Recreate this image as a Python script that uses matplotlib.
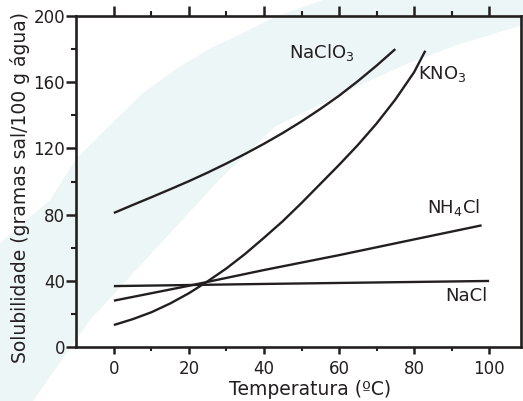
import matplotlib
matplotlib.use("Agg")
import matplotlib.pyplot as plt
from matplotlib.patches import Polygon
from matplotlib.ticker import MultipleLocator, FixedLocator, NullFormatter

# ---------- data ----------
naclo3_t = [0, 5, 10, 15, 20, 25, 30, 35, 40, 45, 50, 55, 60, 65, 70, 75]
naclo3_s = [81, 85.8, 90.5, 95.3, 100.2, 105.4, 110.9, 116.7, 122.8, 129.3,
            136.3, 143.8, 151.8, 160.6, 170, 180]

kno3_t = [0, 5, 10, 15, 20, 25, 30, 35, 40, 45, 50, 55, 60, 65, 70, 75, 80, 83]
kno3_s = [13.3, 16.8, 21, 26.3, 32.5, 39.7, 47.5, 56.3, 66, 76, 87, 98.5,
          110, 122, 135, 149.5, 166, 179]

nh4cl_t = [0, 20, 40, 60, 80, 98]
nh4cl_s = [28, 37, 46.5, 55.5, 65, 73.5]

nacl_t = [0, 40, 100]
nacl_s = [36.8, 38.1, 39.9]

labels = ["NaClO$_3$", "KNO$_3$", "NH$_4$Cl", "NaCl"]
label_pos = [(46.7, 178), (81.1, 165), (83.5, 84), (88.3, 30.8)]

INK = "#231f20"
BAND = "#edf6f7"
W, H = 523, 401

fig = plt.figure(figsize=(W / 100, H / 100), dpi=100)
fig.patch.set_facecolor("white")


def px(x, y):
    return (x / W, 1 - y / H)


# light cyan decorative band behind everything
band_px = [(0, 401), (33, 401), (90, 320), (186, 216), (219, 180), (276, 126),
           (343, 93), (409, 63), (457, 45), (523, 25), (523, 0), (323, 0),
           (300, 8), (277, 16), (263, 23), (243, 33), (209, 49), (176, 69),
           (143, 93), (109, 126), (76, 159), (50, 200), (0, 243)]
fig.patches.append(Polygon([px(*p) for p in band_px], closed=True,
                           transform=fig.transFigure, facecolor=BAND,
                           edgecolor="none", zorder=0))

ax = fig.add_axes([76 / W, 54 / H, 445 / W, 331 / H])
ax.set_zorder(2)
ax.set_facecolor("none")

for t, s in [(naclo3_t, naclo3_s), (kno3_t, kno3_s),
             (nh4cl_t, nh4cl_s), (nacl_t, nacl_s)]:
    ax.plot(t, s, color=INK, lw=1.7, solid_capstyle="butt",
            solid_joinstyle="round")

for lab, (x, y) in zip(labels, label_pos):
    ax.text(x, y, lab, fontsize=13, color=INK, ha="left", va="center")

ax.set_xlim(-10.1, 108.5)
ax.set_ylim(0, 200)

ax.xaxis.set_major_locator(FixedLocator([0, 20, 40, 60, 80, 100]))
ax.xaxis.set_minor_locator(FixedLocator([10, 30, 50, 70, 90]))
ax.yaxis.set_major_locator(MultipleLocator(40))
ax.yaxis.set_minor_locator(FixedLocator([20, 60, 100, 140, 180]))

ax.tick_params(axis="x", which="major", direction="out", length=5, width=1.8,
               color=INK, labelsize=12, labelcolor=INK, pad=4)
ax.tick_params(axis="x", which="minor", direction="out", length=3, width=1.5,
               color=INK)
ax.tick_params(axis="y", which="major", direction="out", length=7, width=1.8,
               color=INK, labelsize=12, labelcolor=INK, pad=1)
ax.tick_params(axis="y", which="minor", direction="out", length=3.5, width=1.5,
               color=INK)

top = ax.secondary_xaxis("top")
top.xaxis.set_major_locator(FixedLocator([0, 20, 40, 60, 80, 100]))
top.xaxis.set_minor_locator(FixedLocator([10, 30, 50, 70, 90]))
top.xaxis.set_major_formatter(NullFormatter())
top.tick_params(which="major", direction="out", length=7.5, width=1.8, color=INK)
top.tick_params(which="minor", direction="out", length=3.5, width=1.5, color=INK)
top.spines["top"].set_visible(False)

for sp in ax.spines.values():
    sp.set_linewidth(1.9)
    sp.set_color(INK)

ax.set_xlabel("Temperatura (ºC)", fontsize=13.5, color=INK)
ax.set_ylabel("Solubilidade (gramas sal/100 g água)", fontsize=13.5, color=INK)
ax.xaxis.set_label_coords(0.526, -0.127)
ax.xaxis.label.set_va("center")
ax.yaxis.set_label_coords(-0.126, 0.482)
ax.yaxis.label.set_va("center")

fig.savefig("out.png", dpi=100, facecolor=fig.get_facecolor())
